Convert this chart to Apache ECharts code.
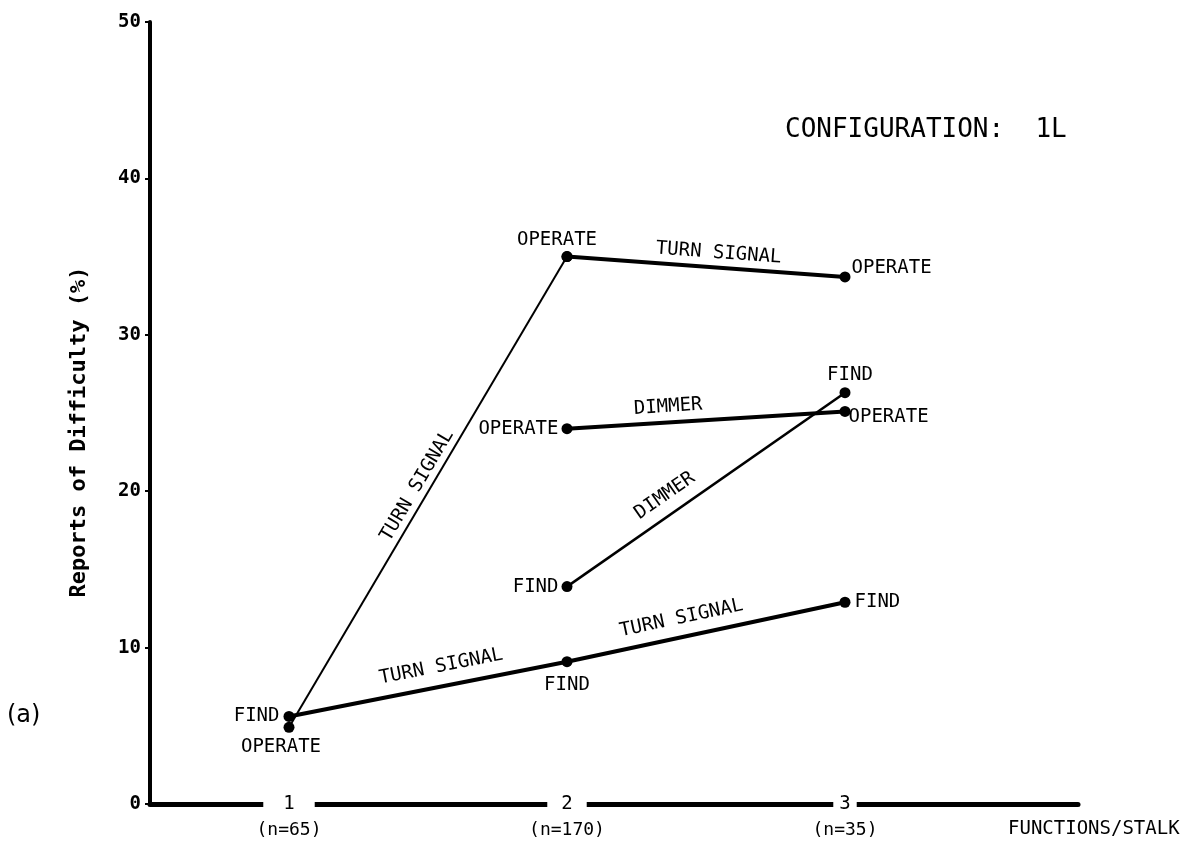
<!DOCTYPE html>
<html>
<head>
<meta charset="utf-8">
<script src="https://cdn.jsdelivr.net/npm/echarts@6/dist/echarts.min.js"></script>
<style>
  html, body { margin: 0; padding: 0; background: #fff; }
  #chart { width: 1196px; height: 847px; }
</style>
</head>
<body>
<div id="chart"></div>
<script>
// Number of functions on the stalk, and respondents in each group
const functionsPerStalk = [1, 2, 3];
const sampleSizes = ['(n=65)', '(n=170)', '(n=35)'];
const yTicks = [0, 10, 20, 30, 40, 50];

// Reports of difficulty (%) for each control task
const turnSignalFind = [5.6, 9.1, 12.9];
const turnSignalOperate = [4.9, 35.0, 33.7];
const dimmerFind = [null, 13.9, 26.3];
const dimmerOperate = [null, 24.0, 25.1];

const MONO = '"DejaVu Sans Mono", "Liberation Mono", monospace';
const INK = '#000';

function points(values, from, to) {
  const out = [];
  for (let i = from; i <= to; i++) out.push([functionsPerStalk[i], values[i]]);
  return out;
}

function labelled(pts, opts) {
  return pts.map((p, i) => opts[i]
    ? { value: p, label: Object.assign({ show: true }, opts[i]) }
    : { value: p });
}

// Unstroked segment between two data points that carries a text along it
function segmentText(text, a, b, position, distance) {
  return [
    { coord: a, label: { show: true, formatter: text, position: position, distance: distance,
        color: INK, opacity: 1, fontFamily: MONO, fontSize: 19 } },
    { coord: b }
  ];
}

function markText(segments) {
  return {
    silent: true,
    symbol: 'none',
    animation: false,
    lineStyle: { color: 'rgba(0,0,0,0)', width: 1, type: 'solid' },
    label: { show: true, color: INK, opacity: 1 },
    data: segments
  };
}

function lineSeries(name, data, width, labelText, marks) {
  return {
    type: 'line',
    name: name,
    data: data,
    silent: true,
    animation: false,
    symbol: 'circle',
    symbolSize: 11,
    itemStyle: { color: INK },
    lineStyle: { color: INK, width: width },
    label: { show: false, formatter: labelText, color: INK, fontFamily: MONO, fontSize: 19 },
    markLine: marks
  };
}

const tsFindPts = points(turnSignalFind, 0, 2);
const tsOpA = points(turnSignalOperate, 0, 1);
const tsOpB = points(turnSignalOperate, 1, 2);
const dimOpPts = points(dimmerOperate, 1, 2);
const dimFindPts = points(dimmerFind, 1, 2);

const series = [
  lineSeries('Turn signal find',
    labelled(tsFindPts, [
      { position: 'left', distance: 4 },
      { position: 'bottom', distance: 8 },
      { position: 'right', distance: 4 }
    ]), 4, 'FIND',
    markText([
      segmentText('TURN SIGNAL', tsFindPts[0], tsFindPts[1], 'insideStartTop', [96, 10]),
      segmentText('TURN SIGNAL', tsFindPts[1], tsFindPts[2], 'insideStartTop', [58, 9])
    ])),
  lineSeries('Turn signal operate',
    labelled(tsOpA, [
      { position: 'bottom', distance: 5, offset: [-8, 0] },
      { position: 'top', distance: 2, offset: [-10, 0] }
    ]), 2, 'OPERATE',
    markText([segmentText('TURN SIGNAL', tsOpA[0], tsOpA[1], 'insideMiddleTop', [0, 3])])),
  lineSeries('Turn signal operate 2-3',
    labelled(tsOpB, [null, { position: 'right', distance: 1, offset: [0, -9] }]), 4, 'OPERATE',
    markText([segmentText('TURN SIGNAL', tsOpB[0], tsOpB[1], 'insideStartTop', [88, 5])])),
  lineSeries('Dimmer operate',
    labelled(dimOpPts, [
      { position: 'left', distance: 3 },
      { position: 'right', distance: 0, offset: [-2, 6] }
    ]), 4, 'OPERATE',
    markText([segmentText('DIMMER', dimOpPts[0], dimOpPts[1], 'insideStartTop', [68, 6])])),
  lineSeries('Dimmer find',
    labelled(dimFindPts, [
      { position: 'left', distance: 3 },
      { position: 'top', distance: 3, offset: [5, 0] }
    ]), 2.5, 'FIND',
    markText([segmentText('DIMMER', dimFindPts[0], dimFindPts[1], 'insideStartTop', [98, 9])]))
];

// Axis-line gaps around each category number
const gapPad = [20, 14, 6];
const rich = { n: { fontFamily: MONO, fontSize: 18, lineHeight: 30, color: INK } };
functionsPerStalk.forEach((v, i) => {
  rich['g' + i] = { fontFamily: MONO, fontSize: 19, lineHeight: 22, color: INK,
    backgroundColor: '#fff', padding: [0, gapPad[i], 0, gapPad[i]] };
});

const chart = echarts.init(document.getElementById('chart'), null, { renderer: 'canvas' });
chart.setOption({
  backgroundColor: '#fff',
  animation: false,
  title: [
    { text: 'CONFIGURATION:  1L', left: 785, top: 117, padding: 0,
      textStyle: { fontFamily: MONO, fontSize: 26, fontWeight: 'normal', color: INK } },
    { text: 'FUNCTIONS/STALK', left: 1008, top: 820, padding: 0,
      textStyle: { fontFamily: MONO, fontSize: 19, fontWeight: 'normal', color: INK } },
    { text: '(a)', left: 7, top: 704, padding: 0,
      textStyle: { fontFamily: '"DejaVu Sans", sans-serif', fontSize: 24, fontWeight: 'normal', color: INK } }
  ],
  grid: { left: 150, right: 118, top: 22, bottom: 43, outerBoundsMode: 'none' },
  xAxis: {
    type: 'value',
    min: 0.5,
    max: 0.5 + 928 / 278,
    interval: 0.5,
    axisLine: { onZero: false, lineStyle: { color: INK, width: 5 } },
    axisTick: { show: false },
    splitLine: { show: false },
    axisLabel: {
      margin: -11,
      showMinLabel: false,
      formatter: function (v) {
        const i = functionsPerStalk.findIndex(f => Math.abs(f - v) < 1e-6);
        if (i < 0) return '';
        return '{g' + i + '|' + functionsPerStalk[i] + '}\n{n|' + sampleSizes[i] + '}';
      },
      rich: rich
    }
  },
  yAxis: {
    type: 'value',
    min: yTicks[0],
    max: yTicks[yTicks.length - 1],
    interval: yTicks[1] - yTicks[0],
    axisLine: { show: true, lineStyle: { color: INK, width: 4 } },
    axisTick: { show: true, length: 5, lineStyle: { color: INK, width: 2 } },
    axisLabel: { color: INK, fontFamily: MONO, fontSize: 19, fontWeight: 'bold', margin: 9 },
    splitLine: { show: false },
    name: 'Reports of Difficulty (%)',
    nameLocation: 'middle',
    nameGap: 60,
    nameTextStyle: { color: INK, fontFamily: MONO, fontSize: 22, fontWeight: 'bold', padding: [0, 38, 0, 0] }
  },
  series: series
});
</script>
</body>
</html>
